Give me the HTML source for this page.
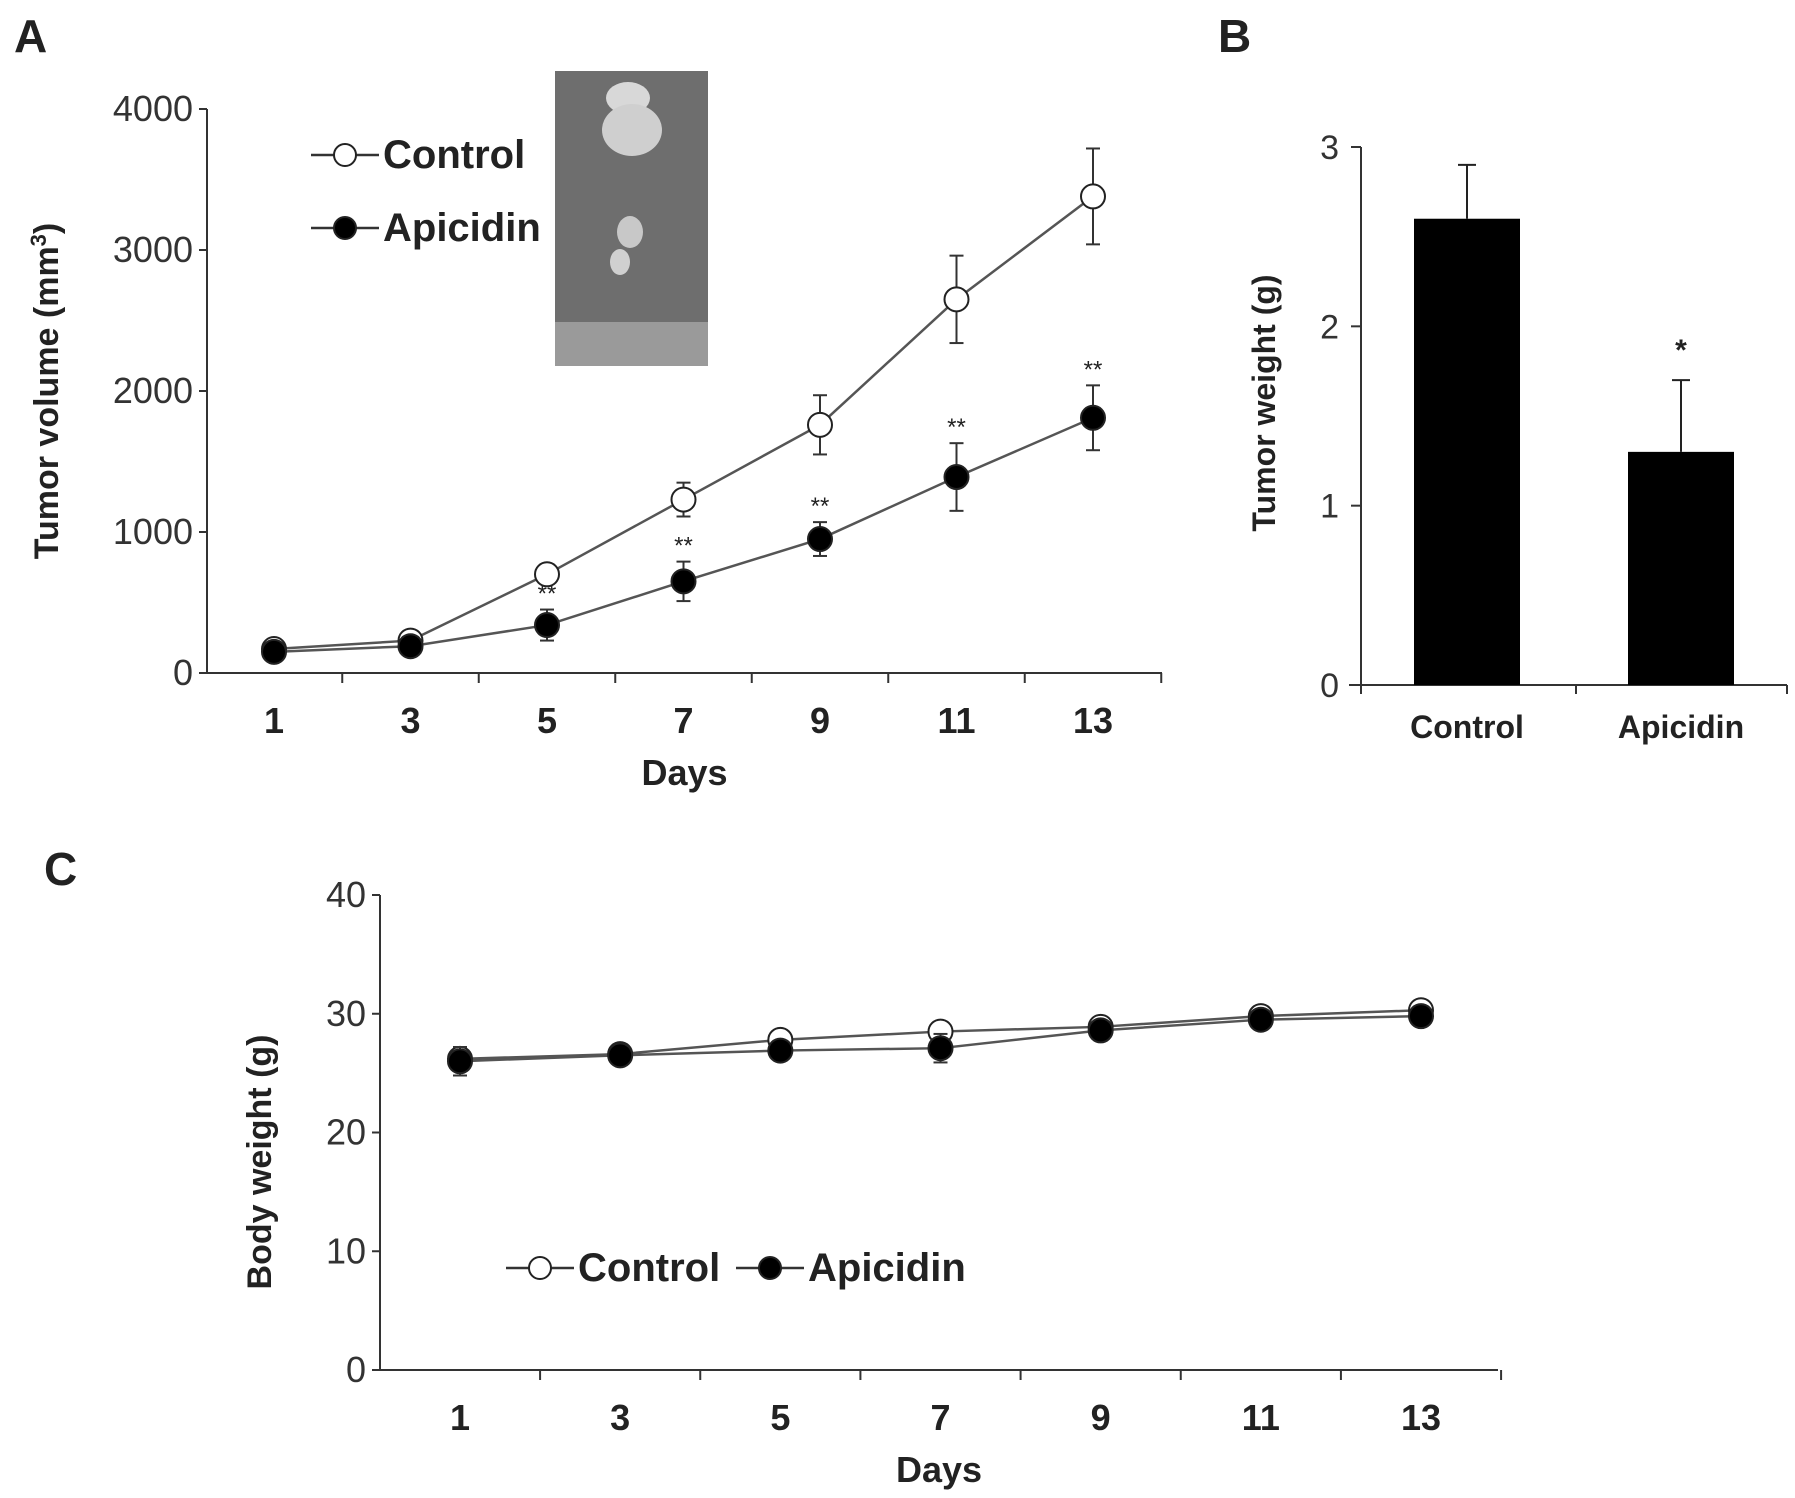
<!DOCTYPE html>
<html><head><meta charset="utf-8"><style>
html,body{margin:0;padding:0;background:#fff;width:1795px;height:1498px;overflow:hidden}
svg text{font-family:"Liberation Sans Narrow","Liberation Sans",sans-serif;font-weight:bold;fill:#222}
.w{font-family:"Liberation Sans",sans-serif!important}
</style></head><body>
<svg id="fig" width="1795" height="1498" viewBox="0 0 1795 1498" xmlns="http://www.w3.org/2000/svg">
<text x="14" y="52" font-size="46" class="w">A</text>
<text x="1218" y="52" font-size="46" class="w">B</text>
<text x="44" y="885" font-size="46" class="w">C</text>
<g>
<rect x="555" y="71" width="153" height="295" fill="#6e6e6e"/>
<rect x="555" y="322" width="153" height="44" fill="#9a9a9a"/>
<ellipse cx="628" cy="98" rx="22" ry="16" fill="#d8d8d8"/>
<ellipse cx="632" cy="130" rx="30" ry="26" fill="#cfcfcf"/>
<ellipse cx="630" cy="232" rx="13" ry="16" fill="#c8c8c8"/>
<ellipse cx="620" cy="262" rx="10" ry="13" fill="#d0d0d0"/>
</g>
<g id="gA"></g><g id="gB"></g><g id="gC"></g>
</svg>
<script>
const NS="http://www.w3.org/2000/svg";
const days=[1,3,5,7,9,11,13];
const volControl=[170,230,700,1230,1760,2650,3380];
const volControlErr=[30,40,50,120,210,310,340];
const volApicidin=[150,190,340,650,950,1390,1810];
const volApicidinErr=[30,40,110,140,120,240,230];
const volTicks=[0,1000,2000,3000,4000];
const weightGroups=["Control","Apicidin"];
const weightValues=[2.6,1.3];
const weightErr=[0.3,0.4];
const weightTicks=[0,1,2,3];
const bwControl=[26.2,26.6,27.8,28.5,28.9,29.8,30.3];
const bwApicidin=[26.0,26.5,26.9,27.1,28.6,29.5,29.8];
const bwErr=[1.2,0.8,0.8,1.2,0.6,0.5,0.5];
const bwTicks=[0,10,20,30,40];

function el(p,t,a,txt){const e=document.createElementNS(NS,t);for(const k in a)e.setAttribute(k,a[k]);if(txt!==undefined)e.textContent=txt;p.appendChild(e);return e;}

function lineChart(g,o){
  const sy=v=>o.y0-(v-o.vmin)/(o.vmax-o.vmin)*(o.y0-o.y1);
  const sx=d=>o.xd1+(d-1)/12*(o.xd13-o.xd1);
  const step=(o.xd13-o.xd1)/6;
  let a=el(g,'line',{x1:o.ax,y1:o.y1,x2:o.ax,y2:o.y0,stroke:'#333','stroke-width':2});
  
  a=el(g,'line',{x1:o.ax,y1:o.y0,x2:o.xr,y2:o.y0,stroke:'#333','stroke-width':2});
  
  o.ticks.forEach(t=>{el(g,'line',{x1:o.ax-8,y1:sy(t),x2:o.ax,y2:sy(t),stroke:'#333','stroke-width':2});
    const tx=el(g,'text',{x:o.ax-14,y:sy(t)+12,'font-size':o.fs,'text-anchor':'end',style:'font-weight:normal;fill:#333'},t);
    });
  for(let i=0;i<=7;i++){const x=o.xd1-step/2+i*step;if(x>o.ax+3)el(g,'line',{x1:x,y1:o.y0,x2:x,y2:o.y0+10,stroke:'#333','stroke-width':2});}
  days.forEach(d=>{const tx=el(g,'text',{x:sx(d),y:o.ly,'font-size':o.fs,'text-anchor':'middle'},d);
    });
  const dt=el(g,'text',{x:(o.ax+o.xr)/2,y:o.dy,'font-size':o.fs,'text-anchor':'middle'},'Days');
  
  const yt=el(g,'text',{x:0,y:0,'font-size':o.yfs,'text-anchor':'middle',class:'w',transform:`translate(${o.ytx},${o.yty}) rotate(-90)`});
  
  yt.innerHTML=o.ytitle;
  o.series.forEach(s=>{
    const pts=days.map((d,i)=>sx(d)+','+sy(s.v[i])).join(' ');
    const pl=el(g,'polyline',{points:pts,fill:'none',stroke:'#555','stroke-width':2.5});
    
    days.forEach((d,i)=>{const x=sx(d),e=s.e[i];
      el(g,'line',{x1:x,y1:sy(s.v[i]+e),x2:x,y2:sy(s.v[i]-e),stroke:'#333','stroke-width':2});
      el(g,'line',{x1:x-7,y1:sy(s.v[i]+e),x2:x+7,y2:sy(s.v[i]+e),stroke:'#333','stroke-width':2});
      el(g,'line',{x1:x-7,y1:sy(s.v[i]-e),x2:x+7,y2:sy(s.v[i]-e),stroke:'#333','stroke-width':2});
      const c=el(g,'circle',{cx:x,cy:sy(s.v[i]),r:o.r,fill:s.fill,stroke:'#222','stroke-width':2});
      
      if(s.stars&&s.stars[i]){const st=el(g,'text',{x:x,y:sy(s.v[i]+e)-8,'font-size':24,'text-anchor':'middle',style:'font-weight:normal'},s.stars[i]);
        }
    });
  });
  o.legend.forEach(L=>{
    el(g,'line',{x1:L.x,y1:L.y,x2:L.x+68,y2:L.y,stroke:'#333','stroke-width':2.5});
    el(g,'circle',{cx:L.x+34,cy:L.y,r:o.r-1,fill:L.fill,stroke:'#222','stroke-width':2});
    const t=el(g,'text',{x:L.x+72,y:L.y+13,'font-size':o.lfs},L.label);
    
  });
}

lineChart(document.getElementById('gA'),{ax:207,xr:1162,y0:673,y1:109,vmin:0,vmax:4000,xd1:274,xd13:1093,
 ticks:volTicks,fs:36,ly:733,dy:785,yfs:34,ytx:58,yty:391,ytitle:'Tumor volume (mm<tspan baseline-shift="super" font-size="22">3</tspan>)',r:12,lfs:40,
 series:[{name:'control',v:volControl,e:volControlErr,fill:'#fff'},
         {name:'apicidin',v:volApicidin,e:volApicidinErr,fill:'#000',stars:['','','**','**','**','**','**']}],
 legend:[{x:311,y:155,fill:'#fff',label:'Control'},{x:311,y:228,fill:'#000',label:'Apicidin'}]});

lineChart(document.getElementById('gC'),{ax:380,xr:1498,y0:1370,y1:895,vmin:0,vmax:40,xd1:460,xd13:1421,
 ticks:bwTicks,fs:36,ly:1430,dy:1482,yfs:34,ytx:271,yty:1162,ytitle:'Body weight (g)',r:12,lfs:40,
 series:[{name:'control',v:bwControl,e:bwErr.map(()=>0.5),fill:'#fff'},{name:'apicidin',v:bwApicidin,e:bwErr,fill:'#000'}],
 legend:[{x:506,y:1268,fill:'#fff',label:'Control'},{x:736,y:1268,fill:'#000',label:'Apicidin'}]});

(function(){
  const g=document.getElementById('gB');
  const ax=1361,xr=1787,y0=685,y1=147;
  const sy=v=>y0-v/3*(y0-y1);
  const cx=[1467,1681],bw=106;
  let a=el(g,'line',{x1:ax,y1:y1,x2:ax,y2:y0,stroke:'#333','stroke-width':2});
  
  a=el(g,'line',{x1:ax-12,y1:y0,x2:xr,y2:y0,stroke:'#333','stroke-width':2});
  
  [ax,1576,xr].forEach(x=>el(g,'line',{x1:x,y1:y0,x2:x,y2:y0+9,stroke:'#333','stroke-width':2}));
  weightTicks.forEach(t=>{el(g,'line',{x1:ax-10,y1:sy(t),x2:ax,y2:sy(t),stroke:'#333','stroke-width':2});
    const tx=el(g,'text',{x:ax-22,y:sy(t)+12,'font-size':34,'text-anchor':'end',class:'w',style:'font-weight:normal;fill:#333'},t);
    });
  weightGroups.forEach((gname,i)=>{
    const r=el(g,'rect',{x:cx[i]-bw/2,y:sy(weightValues[i]),width:bw,height:y0-sy(weightValues[i]),fill:'#000'});
    
    const top=sy(weightValues[i]+weightErr[i]);
    el(g,'line',{x1:cx[i],y1:sy(weightValues[i]),x2:cx[i],y2:top,stroke:'#222','stroke-width':2});
    el(g,'line',{x1:cx[i]-9,y1:top,x2:cx[i]+9,y2:top,stroke:'#222','stroke-width':2});
    const t=el(g,'text',{x:cx[i],y:738,'font-size':32,'text-anchor':'middle',class:'w'},gname);
    
  });
  const st=el(g,'text',{x:cx[1],y:sy(weightValues[1]+weightErr[1])-20,'font-size':30,'text-anchor':'middle',class:'w'},'*');
  
  const yt=el(g,'text',{x:0,y:0,'font-size':32,'text-anchor':'middle',class:'w',transform:'translate(1275,403) rotate(-90)'},'Tumor weight (g)');
  
})();
</script>
</body></html>
